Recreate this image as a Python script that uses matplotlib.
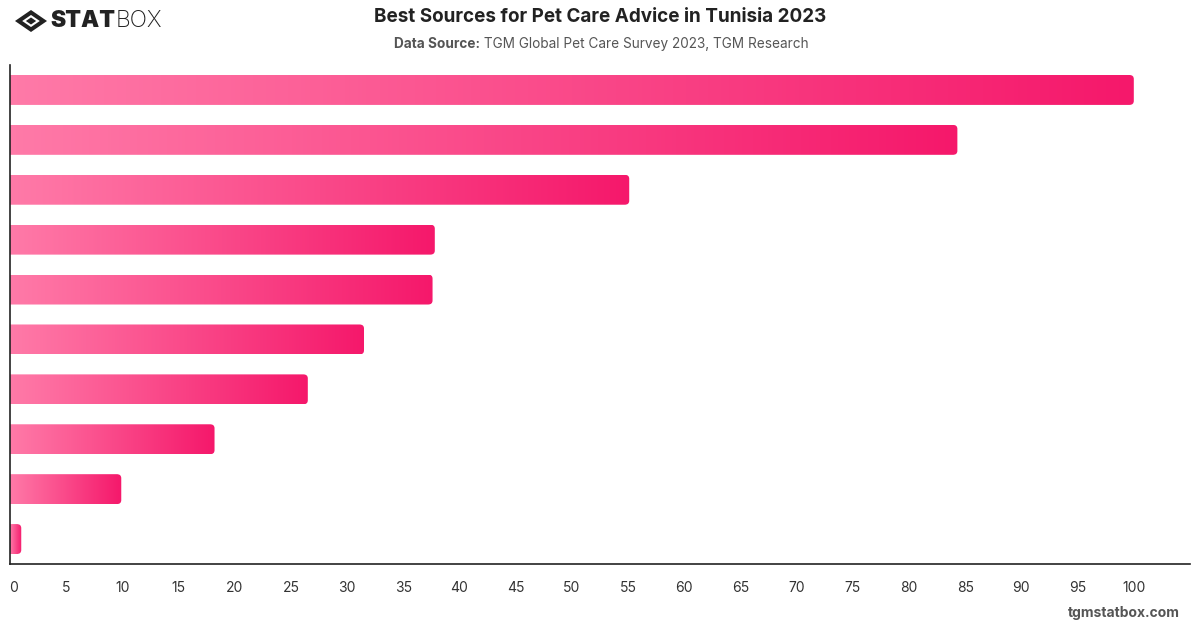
import numpy as np
import matplotlib
matplotlib.use("Agg")
import matplotlib.pyplot as plt
from matplotlib.patches import FancyBboxPatch, Polygon
from matplotlib.colors import LinearSegmentedColormap
from matplotlib.transforms import ScaledTranslation

plt.rcParams['font.family'] = ['Inter', 'DejaVu Sans']

# Data (category labels are not shown in the reference)
categories = ["Source 1", "Source 2", "Source 3", "Source 4", "Source 5",
              "Source 6", "Source 7", "Source 8", "Source 9", "Source 10"]
values = [100, 84.3, 55.1, 37.8, 37.6, 31.5, 26.5, 18.2, 9.9, 1.0]
xticks = list(range(0, 101, 5))

title = "Best Sources for Pet Care Advice in Tunisia 2023"
source_bold = "Data Source:"
source_text = " TGM Global Pet Care Survey 2023, TGM Research"

fig = plt.figure(figsize=(12, 6.28), dpi=100)
ax = fig.add_axes([10/1200, 64/628, 1180/1200, 499/628])

cmap = LinearSegmentedColormap.from_list("pk", ["#ff7aa8", "#f5186b"])
grad = np.linspace(0, 1, 256).reshape(1, -1)

ax.set_xlim(0, 105)
ax.set_ylim(len(values) - 0.5, -0.5)
bh = 0.6
rx = 0.4
for i, v in enumerate(values):
    y0 = i - bh / 2
    patch = FancyBboxPatch((-3, y0), v + 3, bh,
                           boxstyle=f"round,pad=0,rounding_size={rx}",
                           mutation_aspect=(4/50) / rx,
                           facecolor="none", edgecolor="none")
    ax.add_patch(patch)
    im = ax.imshow(grad, cmap=cmap, aspect="auto",
                   extent=(0, v, i + bh / 2, y0), zorder=2,
                   interpolation="bilinear")
    im.set_clip_path(patch)

ax.set_xlim(0, 105)
ax.set_ylim(len(values) - 0.5, -0.5)

for s in ["top", "right"]:
    ax.spines[s].set_visible(False)
for s in ["left", "bottom"]:
    ax.spines[s].set_color("#222222")
    ax.spines[s].set_linewidth(1.2)
    ax.spines[s].set_zorder(5)
ax.set_yticks([])
ax.set_xticks(xticks)
ax.set_xticklabels([str(t) for t in xticks], fontsize=10, color="#333333")
ax.tick_params(axis="x", length=0, pad=12)
lbl0 = ax.get_xticklabels()[0]
lbl0.set_transform(lbl0.get_transform() + ScaledTranslation(4/100, 0, fig.dpi_scale_trans))

# Title and subtitle
fig.text(0.5, 1 - 17/628, title, ha="center", va="center",
         fontsize=13.6, fontweight="bold", color="#222222")
t1 = fig.text(0.5, 1 - 44/628, source_bold + source_text, ha="center", va="center",
              fontsize=9.8, color="#555555", alpha=0)
fig.canvas.draw()
r = fig.canvas.get_renderer()
bb = t1.get_window_extent(r)
left = bb.x0 / 1200
tb = fig.text(left, 1 - 44/628, source_bold, ha="left", va="center",
              fontsize=9.8, color="#555555", fontweight="bold")
bb2 = tb.get_window_extent(r)
fig.text(bb2.x1 / 1200, 1 - 44/628, source_text, ha="left", va="center",
         fontsize=9.8, color="#555555")

# Logo
cx, cy = 31/1200, 1 - 21/628
sx, sy = 16/1200, 11/628
outer = Polygon([(cx - sx, cy), (cx, cy + sy), (cx + sx, cy), (cx, cy - sy)],
                closed=True, facecolor="#222222", edgecolor="none",
                transform=fig.transFigure)
fig.patches.append(outer)
inner = Polygon([(cx - sx*0.55, cy), (cx, cy + sy*0.55), (cx + sx*0.55, cy), (cx, cy - sy*0.55)],
                closed=True, facecolor="white", edgecolor="none",
                transform=fig.transFigure)
fig.patches.append(inner)
core = Polygon([(cx - sx*0.32, cy), (cx, cy + sy*0.32), (cx + sx*0.32, cy), (cx, cy - sy*0.32)],
               closed=True, facecolor="#222222", edgecolor="none",
               transform=fig.transFigure)
fig.patches.append(core)
ts = fig.text(50/1200, cy, "STAT", ha="left", va="center", fontsize=16.5,
              fontweight="black", color="#222222")
bs = ts.get_window_extent(r)
fig.text(bs.x1 / 1200 + 1/1200, cy, "BOX", ha="left", va="center", fontsize=16.5,
         fontweight="light", color="#222222")

fig.text(1180/1200, 1 - 613/628, "tgmstatbox.com", ha="right", va="center",
         fontsize=10, fontweight="bold", color="#555555")

fig.savefig("out.png", dpi=100, facecolor="white")
